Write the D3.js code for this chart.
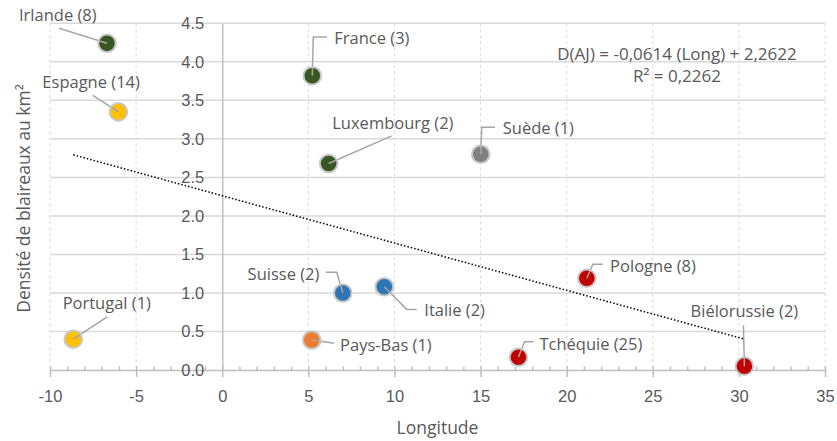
<!DOCTYPE html>
<html>
<head>
<meta charset="utf-8">
<script src="https://cdn.jsdelivr.net/npm/d3@7"></script>
<style>
  html, body { margin: 0; padding: 0; background: #ffffff; }
  svg { display: block; font-family: "Open Sans", "Liberation Sans", sans-serif; }
</style>
</head>
<body>
<svg id="chart" width="837" height="441"></svg>
<script>
// ---- Data ----
const pays = ["Irlande (8)", "Espagne (14)", "France (3)", "Luxembourg (2)", "Suède (1)", "Suisse (2)",
              "Italie (2)", "Pays-Bas (1)", "Tchéquie (25)", "Pologne (8)", "Biélorussie (2)", "Portugal (1)"];
const longitudes = [-6.69, -6.03, 5.23, 6.18, 15.01, 7.0, 9.41, 5.20, 17.2, 21.17, 30.32, -8.65];
const densites   = [4.24, 3.35, 3.82, 2.68, 2.80, 1.00, 1.08, 0.39, 0.165, 1.19, 0.05, 0.40];
const groupes    = ["G1", "G2", "G1", "G1", "G3", "G4", "G4", "G5", "G6", "G6", "G6", "G2"];
const groupeNoms = ["G1", "G2", "G3", "G4", "G5", "G6"];
const xTicks = [-10, -5, 0, 5, 10, 15, 20, 25, 30, 35];
const yTicks = [0, 0.5, 1, 1.5, 2, 2.5, 3, 3.5, 4, 4.5];
const pente = -0.0614, ordonnee = 2.2622, r2 = 0.2262;
const equationTexte = "D(AJ) = -0,0614 (Long) + 2,2622";
const r2Texte = "R² = 0,2262";
const titreX = "Longitude";
const titreY = "Densité de blaireaux au km²";

// ---- Styles / layout ----
const palette = ["#385723", "#FFC000", "#808080", "#2E75B6", "#ED7D31", "#C00000"];
const textColor = "#595959";
const gridColor = "#d9d9d9";
const axisColor = "#bfbfbf";
const leaderColor = "#a6a6a6";
const labelSize = "16.5px";

// label layout relative to each point (anchor, text offset, leader path)
const labelLayout = [
  {a: "start",  dx: -88,  dy: -28.5, path: [[-48, -15]]},
  {a: "start",  dx: -76,  dy: -30.6, path: [[-25.6, -16.6]]},
  {a: "start",  dx: 22,   dy: -38.5, path: [[1, -38.7], [14.7, -38.7]]},
  {a: "start",  dx: 3.6,  dy: -40.8, path: [[63, -27.6]]},
  {a: "start",  dx: 22,   dy: -27,   path: [[1, -27], [14.3, -27]]},
  {a: "end",    dx: -23.4,dy: -19.3, path: [[-6, -20.6], [-17, -20.6]]},
  {a: "start",  dx: 40,   dy: 22.6,  path: [[22.4, 22.6], [32.4, 22.6]]},
  {a: "start",  dx: 28.3, dy: 5,     path: [[22.3, 3.3]]},
  {a: "start",  dx: 21,   dy: -14,   path: [[6, -15.6], [15, -15.6]]},
  {a: "start",  dx: 23.3, dy: -13.3, path: [[6, -14], [16, -14]]},
  {a: "middle", dx: 0,    dy: -55.3, path: [[-1, -41]]},
  {a: "start",  dx: -10.6,dy: -36.3, path: [[34, -22.3]]}
];

const svg = d3.select("#chart");
const plot = {left: 50, right: 825, top: 23.3, bottom: 370};

const x = d3.scaleLinear().domain([-10, 35]).range([plot.left, plot.right]);
const y = d3.scaleLinear().domain([0, 4.5]).range([plot.bottom, plot.top]);
const color = d3.scaleOrdinal().domain(groupeNoms).range(palette);

// horizontal gridlines
svg.append("g").selectAll("line").data(yTicks.filter(v => v > 0)).join("line")
  .attr("x1", plot.left).attr("x2", plot.right)
  .attr("y1", d => y(d)).attr("y2", d => y(d))
  .attr("stroke", gridColor).attr("stroke-width", 1.5);

// vertical dashed gridlines
svg.append("g").selectAll("line").data(xTicks.filter(v => v !== 0)).join("line")
  .attr("x1", d => x(d)).attr("x2", d => x(d))
  .attr("y1", plot.top).attr("y2", plot.bottom)
  .attr("stroke", gridColor).attr("stroke-width", 1).attr("stroke-dasharray", "3,3");

// x axis: major ticks + minor ticks
const xAxis = svg.append("g").attr("transform", `translate(0,${plot.bottom})`)
  .call(d3.axisBottom(x).tickValues(xTicks).tickSizeInner(7).tickSizeOuter(0).tickPadding(13).tickFormat(d3.format("d")));
xAxis.select(".domain").attr("stroke", axisColor).attr("stroke-width", 1.5);
xAxis.selectAll(".tick line").attr("stroke", axisColor).attr("stroke-width", 1.5);
xAxis.selectAll(".tick text").attr("fill", textColor).style("font-size", "16.5px")
  .text(d => d < 0 ? "-" + Math.abs(d) : d);

const minorTicks = d3.range(-10, 36, 1);
const xMinor = svg.append("g").attr("transform", `translate(0,${plot.bottom})`)
  .call(d3.axisBottom(x).tickValues(minorTicks).tickSize(-3.5).tickFormat(""));
xMinor.select(".domain").remove();
xMinor.selectAll(".tick line").attr("stroke", axisColor).attr("stroke-width", 1.5);

// y axis at x = 0
const yAxis = svg.append("g").attr("transform", `translate(${x(0)},0)`)
  .call(d3.axisLeft(y).tickValues(yTicks).tickSize(0).tickPadding(18).tickFormat(d3.format(".1f")));
yAxis.select(".domain").attr("stroke", axisColor).attr("stroke-width", 1.5);
yAxis.selectAll(".tick text").attr("fill", textColor).style("font-size", "16.5px");

// trendline
const [xmin, xmax] = d3.extent(longitudes);
svg.append("line")
  .attr("x1", x(xmin)).attr("y1", y(pente * xmin + ordonnee))
  .attr("x2", x(xmax)).attr("y2", y(pente * xmax + ordonnee))
  .attr("stroke", "#000").attr("stroke-width", 1.5).attr("stroke-dasharray", "1.5,2");

// equation
const eqX = 677;
svg.append("text").attr("x", eqX).attr("y", 53).attr("text-anchor", "middle")
  .attr("dominant-baseline", "central").attr("fill", textColor).style("font-size", "17px")
  .text(equationTexte);
svg.append("text").attr("x", eqX).attr("y", 75).attr("text-anchor", "middle")
  .attr("dominant-baseline", "central").attr("fill", textColor).style("font-size", "17px")
  .text(r2Texte);

const pts = pays.map((p, i) => ({p, lon: longitudes[i], d: densites[i], g: groupes[i], L: labelLayout[i]}));

// leader lines
svg.append("g").selectAll("path").data(pts).join("path")
  .attr("d", d => {
    const cx = x(d.lon), cy = y(d.d);
    return "M" + cx + "," + cy + d.L.path.map(q => "L" + (cx + q[0]) + "," + (cy + q[1])).join("");
  })
  .attr("fill", "none").attr("stroke", leaderColor).attr("stroke-width", 1.5);

// points
svg.append("g").selectAll("circle").data(pts).join("circle")
  .attr("cx", d => x(d.lon)).attr("cy", d => y(d.d)).attr("r", 8.8)
  .attr("fill", d => color(d.g)).attr("stroke", "#c8c8c8").attr("stroke-width", 2);

// short leader stub on top of the marker
svg.append("g").selectAll("path").data(pts).join("path")
  .attr("d", d => {
    const cx = x(d.lon), cy = y(d.d);
    const q = d.L.path[0];
    const len = Math.hypot(q[0], q[1]);
    const t = Math.min(1, 8 / len);
    return "M" + cx + "," + cy + "L" + (cx + q[0] * t) + "," + (cy + q[1] * t);
  })
  .attr("fill", "none").attr("stroke", leaderColor).attr("stroke-width", 1.5);

// labels
svg.append("g").selectAll("text").data(pts).join("text")
  .attr("x", d => x(d.lon) + d.L.dx).attr("y", d => y(d.d) + d.L.dy)
  .attr("text-anchor", d => d.L.a).attr("dominant-baseline", "central")
  .attr("fill", textColor).style("font-size", labelSize)
  .text(d => d.p);

// axis titles
svg.append("text").attr("x", (plot.left + plot.right) / 2).attr("y", 427)
  .attr("text-anchor", "middle").attr("dominant-baseline", "central")
  .attr("fill", textColor).style("font-size", "17.5px").text(titreX);
svg.append("text").attr("transform", `translate(23,198.5) rotate(-90)`)
  .attr("text-anchor", "middle").attr("dominant-baseline", "central")
  .attr("fill", textColor).style("font-size", "17.5px").text(titreY);
</script>
</body>
</html>
